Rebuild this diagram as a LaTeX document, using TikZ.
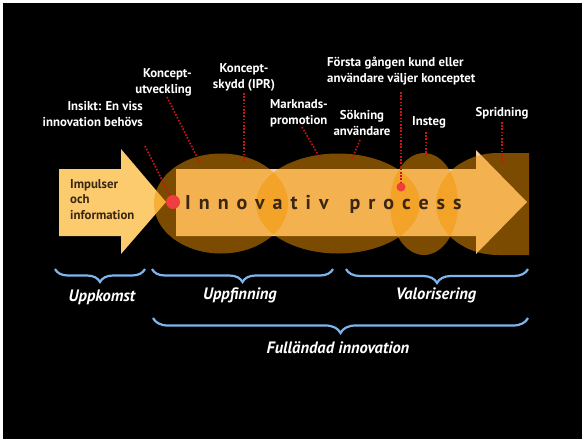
\documentclass[tikz,border=0pt]{standalone}
\usepackage{fontspec}
\setmainfont{PT Sans}
\usetikzlibrary{decorations.pathreplacing}
\definecolor{pale}{RGB}{242,206,160}
\definecolor{leftarrow}{RGB}{251,203,110}
\definecolor{ellorange}{RGB}{244,150,0}
\definecolor{dotred}{RGB}{240,62,62}
\definecolor{linered}{RGB}{205,20,20}
\definecolor{darktext}{RGB}{58,38,18}
\definecolor{braceblue}{RGB}{125,182,236}
\tikzset{
  ell/.style={fill=ellorange, fill opacity=0.5},
  lbl/.style={text=white, font=\bfseries\fontsize{12.8}{16}\selectfont, inner sep=0pt},
  redline/.style={draw=linered, line width=1.6pt, dash pattern=on 1.6pt off 1.6pt},
  reddot/.style={circle, fill=dotred, inner sep=0pt},
  bracestyle/.style={draw=braceblue, line width=2.2pt, decorate, decoration={brace, mirror, amplitude=#1}},
  bracelbl/.style={text=white, font=\bfseries\itshape\fontsize{16.5}{19}\selectfont, inner sep=0pt}
}
\begin{document}
\begin{tikzpicture}[x=1pt,y=-1pt]
\useasboundingbox (0,0) rectangle (584,440);
\fill[white] (0,0) rectangle (584,440);
\fill[black] (3,3) rectangle (582,439);

% arrows
\fill[pale] (176,169) -- (476,169) -- (476,150) -- (527,202) -- (476,254) -- (476,236) -- (176,236) -- cycle;
\fill[leftarrow] (59,169) -- (121,169) -- (121,149) -- (166,202) -- (121,254) -- (121,236) -- (59,236) -- cycle;

% ellipses
\fill[ell] (221,203.5) ellipse [x radius=67pt, y radius=50pt];
\fill[ell] (338,203.5) ellipse [x radius=82pt, y radius=50pt];
\fill[ell] (424,204) ellipse [x radius=34pt, y radius=51pt];
\fill[ell] (529,153) -- (498,153) arc [start angle=90, end angle=270, x radius=62pt, y radius=51pt] -- (529,255) -- cycle;

% texts in arrows
\node[anchor=north west, align=left, inner sep=0pt, text=darktext, font=\bfseries\fontsize{12.8}{15.5}\selectfont] (impulser) at (70,179) {Impulser\\och\\information};
\node[anchor=base west, inner sep=0pt, text=darktext, font=\bfseries\fontsize{20}{22}\selectfont\addfontfeature{LetterSpace=40}] (proc) at (185,209) {Innovativ\hspace{8pt} process};

% red dots
\node[reddot, minimum size=14pt] (dot1) at (173,202) {};
\node[reddot, minimum size=9pt] (dot2) at (401,187) {};

% labels
\node[lbl, anchor=north east, align=right] (insikt) at (143,101) {Insikt: En viss\\innovation behövs};
\node[lbl, anchor=north east, align=right] (kutv) at (192,68) {Koncept-\\utveckling};
\node[lbl, anchor=north, align=center] (kskydd) at (244,63) {Koncept-\\skydd (IPR)};
\node[lbl, anchor=north west, align=left] (mark) at (270,99) {Marknads-\\promotion};
\node[lbl, anchor=north, align=center] (sok) at (362,110) {Sökning\\användare};
\node[lbl, anchor=north west, align=left] (forsta) at (327,57) {Första gången kund eller\\användare väljer konceptet};
\node[lbl, anchor=north] (insteg) at (429,116) {Insteg};
\node[lbl, anchor=north] (sprid) at (502,107) {Spridning};

% dotted connectors
\coordinate (c1) at (145,146);
\coordinate (c2a) at (167,97);  \coordinate (c2b) at (200,163);
\coordinate (c3a) at (244,93);  \coordinate (c3b) at (244,163);
\coordinate (c4a) at (302,127); \coordinate (c4b) at (320,158);
\coordinate (c5a) at (360,140); \coordinate (c5b) at (352,159);
\coordinate (c6) at (401,92);
\coordinate (c7a) at (426,132); \coordinate (c7b) at (426,157);
\coordinate (c8a) at (502,122); \coordinate (c8b) at (502,162);
\draw[redline] (c1) -- (dot1);
\draw[redline] (c2a) -- (c2b);
\draw[redline] (c3a) -- (c3b);
\draw[redline] (c4a) -- (c4b);
\draw[redline] (c5a) -- (c5b);
\draw[redline] (c6) -- (dot2);
\draw[redline] (c7a) -- (c7b);
\draw[redline] (c8a) -- (c8b);

% braces
\coordinate (b1l) at (55,269);  \coordinate (b1r) at (145,269);
\coordinate (b2l) at (152,269); \coordinate (b2r) at (333,269);
\coordinate (b3l) at (346,269); \coordinate (b3r) at (528,269);
\coordinate (b4l) at (153,318); \coordinate (b4r) at (528,318);
\draw[bracestyle=13pt] (b1l) -- (b1r);
\draw[bracestyle=13pt] (b2l) -- (b2r);
\draw[bracestyle=14pt] (b3l) -- (b3r);
\draw[bracestyle=15pt] (b4l) -- (b4r);

\node[bracelbl] (uppkomst) at (102,297) {Uppkomst};
\node[bracelbl] (uppfinning) at (240,295) {Uppfinning};
\node[bracelbl] (valor) at (436,295) {Valorisering};
\node[bracelbl] (full) at (338,348) {Fulländad innovation};
\end{tikzpicture}
\end{document}
